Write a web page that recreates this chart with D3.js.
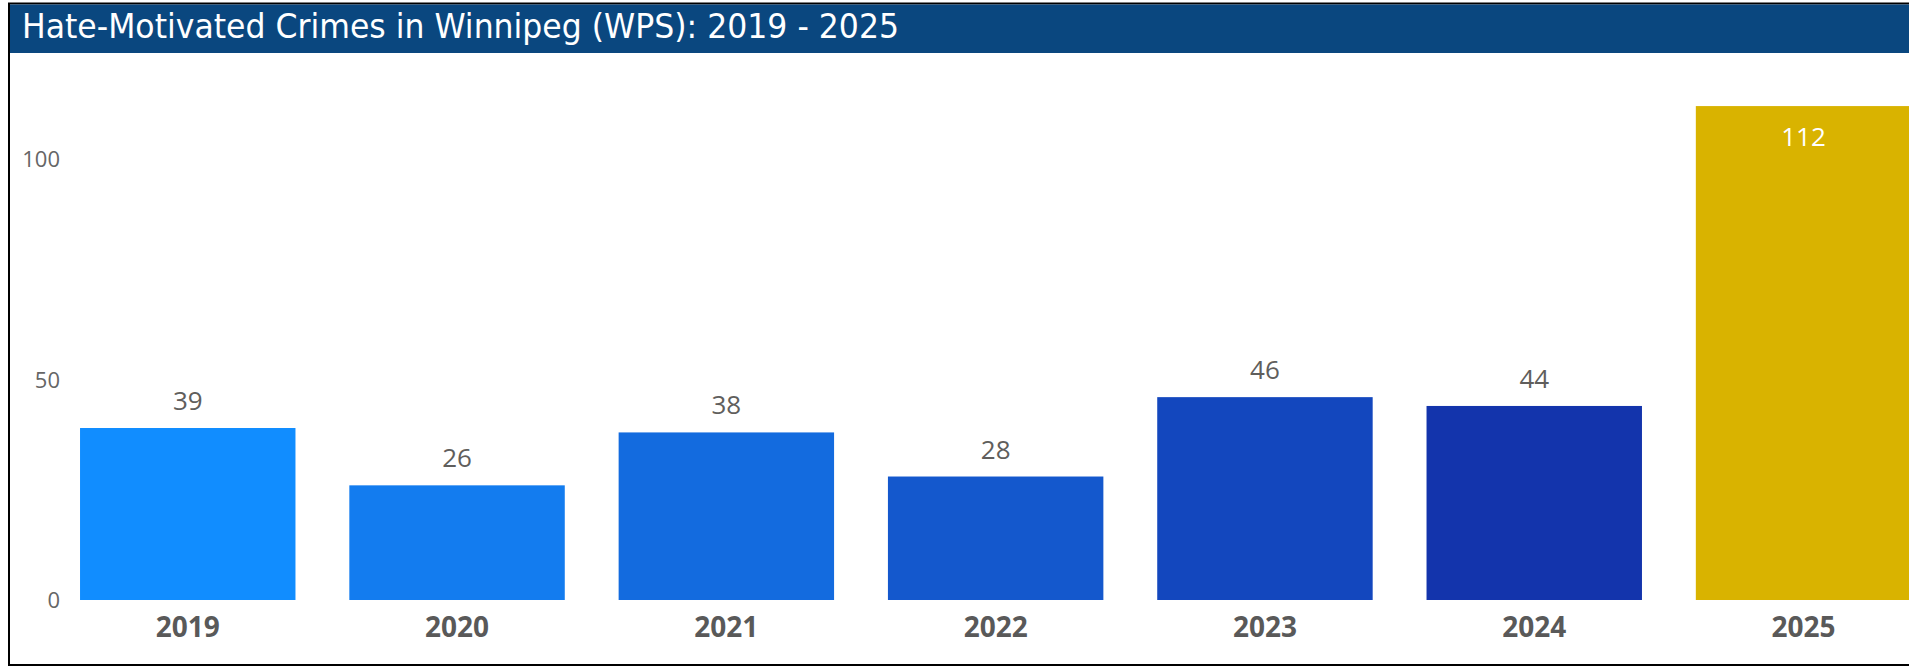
<!DOCTYPE html>
<html>
<head>
<meta charset="utf-8">
<script src="https://cdn.jsdelivr.net/npm/d3@7"></script>
<style>
  html, body { margin: 0; padding: 0; background: #fff; overflow: hidden; }
  svg { display: block; }
</style>
</head>
<body>
<svg id="chart" width="1909" height="667"></svg>
<script>
const years = ["2019", "2020", "2021", "2022", "2023", "2024", "2025"];
const crimes = [39, 26, 38, 28, 46, 44, 112];
const barColors = ["#118DFF", "#137CEF", "#136BDF", "#1458CD", "#1347BE", "#1334AC", "#D9B300"];
const yTicks = [0, 50, 100];
const titleText = "Hate-Motivated Crimes in Winnipeg (WPS): 2019 - 2025";

const W = 1909, H = 667;
const svg = d3.select("#chart");

// frame
svg.append("rect")
  .attr("x", 9).attr("y", 3.5)
  .attr("width", W + 20).attr("height", 661.5)
  .attr("fill", "#fff").attr("stroke", "#000").attr("stroke-width", 2);

// title bar
svg.append("rect")
  .attr("x", 10).attr("y", 4.5)
  .attr("width", W).attr("height", 48.5)
  .attr("fill", "#0A477F");

svg.append("text")
  .attr("x", 22).attr("y", 38)
  .attr("fill", "#fff")
  .attr("font-family", "'DejaVu Sans Condensed', 'Liberation Sans Narrow', sans-serif")
  .attr("font-size", 34)
  .attr("textLength", 877)
  .attr("lengthAdjust", "spacingAndGlyphs")
  .text(titleText);

const data = years.map((y, i) => ({ year: y, value: crimes[i], color: barColors[i] }));

const x = d3.scaleBand()
  .domain(years)
  .range([53.1, 53.1 + 7 * 269.3])
  .paddingInner(0.2)
  .paddingOuter(0.1);

const y = d3.scaleLinear()
  .domain([0, 120])
  .range([600, 600 - 4.41 * 120]);

// y axis labels
const yAxis = d3.axisLeft(y).tickValues(yTicks).tickSize(0).tickPadding(0);
const gy = svg.append("g").attr("transform", "translate(60,0)").call(yAxis);
gy.select(".domain").remove();
gy.selectAll("text")
  .attr("fill", "#666666")
  .attr("font-family", "'Open Sans', sans-serif")
  .attr("font-size", 22)
  .attr("dy", "0.36em");

// bars
const gBars = svg.append("g");
gBars.selectAll("rect")
  .data(data)
  .join("rect")
  .attr("x", d => x(d.year))
  .attr("y", d => y(d.value))
  .attr("width", x.bandwidth())
  .attr("height", d => y(0) - y(d.value))
  .attr("fill", d => d.color);

// value labels
gBars.selectAll("text.val")
  .data(data)
  .join("text")
  .attr("class", "val")
  .attr("x", d => x(d.year) + x.bandwidth() / 2)
  .attr("y", d => d.value > 100 ? y(d.value) + 40 : y(d.value) - 18)
  .attr("text-anchor", "middle")
  .attr("fill", d => d.value > 100 ? "#ffffff" : "#605E5C")
  .attr("font-family", "'Open Sans', sans-serif")
  .attr("font-size", 26)
  .text(d => d.value);

// x axis labels
const xAxis = d3.axisBottom(x).tickSize(0).tickPadding(0);
const gx = svg.append("g").attr("transform", "translate(0,600)").call(xAxis);
gx.select(".domain").remove();
gx.selectAll("text")
  .attr("fill", "#595959")
  .attr("font-family", "'Open Sans', sans-serif")
  .attr("font-weight", "bold")
  .attr("font-size", 28)
  .attr("dy", null)
  .attr("y", 37);
</script>
</body>
</html>
